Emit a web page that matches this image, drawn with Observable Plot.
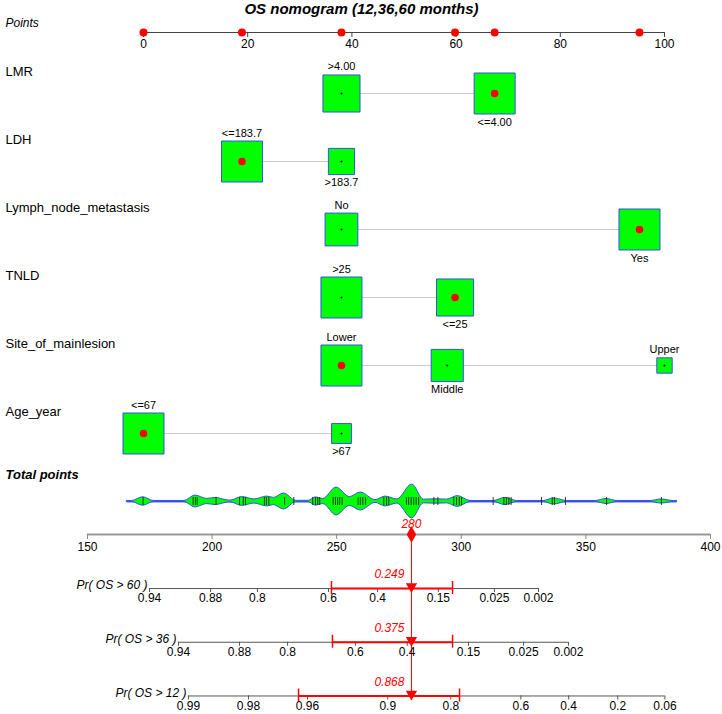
<!DOCTYPE html>
<html><head><meta charset="utf-8">
<script src="https://cdn.jsdelivr.net/npm/d3@7"></script>
<script src="https://cdn.jsdelivr.net/npm/@observablehq/plot@0.6"></script>
<style>
body{margin:0;background:#fff;}
#chart svg{display:block;}
</style></head><body><div id="chart"></div>
<script>
// ---------------- data ----------------
const title = "OS nomogram (12,36,60 months)";
const pointTicks = [0, 20, 40, 60, 80, 100];
const variables = ["LMR", "LDH", "Lymph_node_metastasis", "TNLD", "Site_of_mainlesion", "Age_year"];
const levelVariable = ["LMR", "LMR", "LDH", "LDH", "Lymph_node_metastasis", "Lymph_node_metastasis",
  "TNLD", "TNLD", "Site_of_mainlesion", "Site_of_mainlesion", "Site_of_mainlesion", "Age_year", "Age_year"];
const levelLabels = [">4.00", "<=4.00", "<=183.7", ">183.7", "No", "Yes", ">25", "<=25", "Lower", "Middle", "Upper", "<=67", ">67"];
const levelPoints = [38.0, 67.4, 18.9, 38.0, 38.0, 95.2, 38.0, 59.8, 38.0, 58.3, 100, 0, 38.0];
const levelPercent = [45, 55, 71, 29, 39, 61, 55, 45, 57, 35, 8, 81, 19];
const patientLevels = ["<=4.00", "<=183.7", "Yes", "<=25", "Lower", "<=67"];
const patientTotal = 280;
const totalTicks = [150, 200, 250, 300, 350, 400];
// violin outline of total points distribution (total points, relative density)
const violinTotal = [165.9, 167.9, 172.3, 176.6, 188.9, 193.3, 198.0, 201.4, 205.4, 207.4, 212.1, 217.0, 222.1, 224.8, 228.8,
  233.8, 238.8, 241.5, 244.6, 249.9, 255.3, 259.6, 265.6, 269.6, 274.3, 280.3, 285.0, 290.0, 294.3, 298.6, 303.7,
  313.0, 317.7, 322.4, 333.1, 337.1, 342.5, 353.9, 358.3, 362.6, 375.9, 380.3, 385.3, 386.6];
const violinDensity = [0.03, 0.03, 0.25, 0.03, 0.03, 0.35, 0.15, 0.21, 0.09, 0.05, 0.26, 0.12, 0.29, 0.21, 0.47,
  0.04, 0.04, 0.24, 0.15, 0.82, 0.26, 0.53, 0.08, 0.29, 0.12, 1.0, 0.11, 0.13, 0.11, 0.32, 0.03,
  0.03, 0.21, 0.03, 0.03, 0.18, 0.03, 0.03, 0.15, 0.03, 0.03, 0.12, 0.03, 0.03];
const rugTotal = [172.3, 192.4, 193.3, 194.0, 201.6, 211.0, 212.5, 213.4, 221.0, 221.8, 222.8, 229.1, 232.8,
  240.4, 241.5, 242.4, 243.2, 248.6, 249.5, 250.4, 251.2, 252.2, 258.6, 259.5, 260.5, 261.6,
  268.9, 270.0, 270.9, 278.0, 278.9, 279.9, 280.9, 281.9, 282.9, 289.0, 290.6,
  297.0, 298.1, 299.2, 300.1, 312.8, 317.1, 318.1, 319.1, 320.0, 332.2, 336.5, 337.4, 341.8, 358.3, 380.3];
// survival probability axes
const survTimes = ["60", "36", "12"];
const survEstimate = ["0.249", "0.375", "0.868"];
const ciLowTotal = [247.9, 248.3, 234.7];
const ciHighTotal = [296.5, 296.5, 299.3];
const prTickLabels = [
  ["0.94", "0.88", "0.8", "0.6", "0.4", "0.15", "0.025", "0.002"],
  ["0.94", "0.88", "0.8", "0.6", "0.4", "0.15", "0.025", "0.002"],
  ["0.99", "0.98", "0.96", "0.9", "0.8", "0.6", "0.4", "0.2", "0.06"]
];
const prTickTotal = [
  [174.9, 199.4, 218.2, 246.7, 266.4, 290.8, 313.3, 331.0],
  [186.5, 211.0, 230.3, 257.5, 278.3, 302.9, 325.0, 343.0],
  [190.5, 214.6, 238.3, 270.5, 295.8, 323.9, 343.1, 362.8, 381.7]
];

// ---------------- layout ----------------
const ROW = 68;                       // pixels per row unit
const px = v => v / ROW;              // pixel offset -> row units
const rowPoints = -0.897, rowViolin = 6, rowTotal = 6.485, rowPr = [7.28, 8.07, 8.86];
const tp = t => -10.75 + (t - 150) * 0.4783;   // total points -> points scale
const BOX = 41, VIOLIN_HALF = 17;
const font = "Liberation Sans, Arial, Helvetica, sans-serif";

const levels = levelLabels.map((label, i) => {
  const v = levelVariable[i];
  const row = variables.indexOf(v);
  const same = levelVariable.map((w, j) => j).filter(j => levelVariable[j] === v);
  const maxPct = d3.max(same, j => levelPercent[j]);
  const order = same.indexOf(i);
  const rel = levelPercent[i] / maxPct;
  const side = BOX * Math.sqrt(rel);
  const above = order % 2 === 0;
  return {label, v, row, points: levelPoints[i], rel, side, above,
    selected: patientLevels[variables.indexOf(v)] === label};
});
const rowLines = variables.map((v, row) => {
  const ls = levels.filter(d => d.v === v);
  return {row, x1: d3.min(ls, d => d.points), x2: d3.max(ls, d => d.points)};
});
const selectedPoints = levels.filter(d => d.selected).map(d => d.points);
const violin = violinTotal.map((t, i) => ({t, h: violinDensity[i] * VIOLIN_HALF}));
const pr = survTimes.map((t, i) => ({
  label: `Pr( OS > ${t} )`, row: rowPr[i], est: survEstimate[i], lo: ciLowTotal[i], hi: ciHighTotal[i],
  ticks: prTickLabels[i].map((l, j) => ({label: l, t: prTickTotal[i][j], row: rowPr[i]}))
}));
const prTicks = pr.flatMap(d => d.ticks);

const red = "#ff0000", green = "#00ff00", blue = "#3550ee";

const chart = Plot.plot({
  width: 722, height: 714, margin: 0,
  style: {fontFamily: font, fontSize: "12px", background: "white", color: "black"},
  x: {domain: [0, 100], range: [143, 664], axis: null},
  y: {domain: [0, 6], range: [93, 501], axis: null},
  r: {type: "sqrt", domain: [0, 1], range: [0, BOX / Math.sqrt(Math.PI)]},
  marks: [
    // title
    Plot.text([title], {frameAnchor: "top", lineAnchor: "middle", dy: 9, fontSize: 15, fontWeight: "bold", fontStyle: "italic"}),
    // Points axis
    Plot.text(["Points"], {y: rowPoints, frameAnchor: "left", dx: 5, dy: -9, textAnchor: "start", fontStyle: "italic", fontSize: 12}),
    Plot.ruleY([rowPoints], {x1: d3.min(pointTicks), x2: d3.max(pointTicks), stroke: "#444"}),
    Plot.ruleX(pointTicks, {x: d => d, y1: rowPoints, y2: rowPoints + px(5), stroke: "#444"}),
    Plot.text(pointTicks, {x: d => d, y: rowPoints, dy: 12, fontSize: 12}),
    Plot.dot(selectedPoints, {x: d => d, y: rowPoints, r: 4, fill: red}),
    // variable rows
    Plot.text(variables, {y: (d, i) => i, frameAnchor: "left", dx: 5, dy: -22, textAnchor: "start", fontSize: 13}),
    Plot.ruleY(rowLines, {y: "row", x1: "x1", x2: "x2", stroke: "#cccccc"}),
    Plot.dot(levels, {x: "points", y: "row", r: "rel", symbol: "square", fill: green, stroke: blue, strokeWidth: 1, sort: null}),
    Plot.dot(levels.filter(d => !d.selected), {x: "points", y: "row", r: 1, fill: "black"}),
    Plot.dot(levels.filter(d => d.selected), {x: "points", y: "row", r: 3.8, fill: red}),
    Plot.text(levels, {x: "points", y: d => d.row + (d.above ? -1 : 1) * px(d.side / 2 + 8), text: "label", fontSize: 11}),
    // total points violin
    Plot.text(["Total points"], {y: rowViolin, frameAnchor: "left", dx: 5, dy: -27, textAnchor: "start", fontStyle: "italic", fontWeight: "bold", fontSize: 13}),
    Plot.ruleY([rowViolin], {x1: tp(d3.min(violinTotal)), x2: tp(d3.max(violinTotal)), stroke: "#5b6cf0", strokeWidth: 2}),
    Plot.areaY(violin, {x: d => tp(d.t), y1: d => rowViolin - px(d.h), y2: d => rowViolin + px(d.h), curve: "monotone-x", fill: green, stroke: blue, strokeWidth: 1}),
    Plot.ruleX(rugTotal, {x: tp, y1: rowViolin - px(4), y2: rowViolin + px(4), stroke: "#222", strokeWidth: 0.9}),
    // total points axis
    Plot.ruleY([rowTotal], {x1: tp(d3.min(totalTicks)), x2: tp(d3.max(totalTicks)), stroke: "#999", strokeWidth: 2}),
    Plot.ruleX(totalTicks, {x: tp, y1: rowTotal, y2: rowTotal + px(5), stroke: "#888"}),
    Plot.text(totalTicks, {x: tp, y: rowTotal, dy: 13, fontSize: 12}),
    Plot.ruleX([patientTotal], {x: tp, y1: rowTotal, y2: rowPr[rowPr.length - 1], stroke: red}),
    Plot.dot([patientTotal], {x: tp, y: rowTotal, symbol: "diamond", r: 5, fill: red}),
    Plot.text([patientTotal], {x: tp, y: rowTotal, dy: -10, fill: red, fontStyle: "italic", fontSize: 12}),
    // probability axes
    Plot.ruleY(pr, {y: "row", x1: d => tp(d.ticks[0].t), x2: d => tp(d.ticks[d.ticks.length - 1].t), stroke: "#555"}),
    Plot.ruleX(prTicks, {x: d => tp(d.t), y1: "row", y2: d => d.row + px(4), stroke: "#555"}),
    Plot.text(prTicks, {x: d => tp(d.t), y: "row", text: "label", dy: 10, fontSize: 12}),
    Plot.text(pr, {x: d => tp(d.ticks[0].t), y: "row", text: "label", textAnchor: "end", dx: -2, dy: -3, fontStyle: "italic", fontSize: 12}),
    Plot.ruleY(pr, {y: "row", x1: d => tp(d.lo), x2: d => tp(d.hi), stroke: red, strokeWidth: 2}),
    Plot.ruleX(pr.flatMap(d => [{t: d.lo, row: d.row}, {t: d.hi, row: d.row}]), {x: d => tp(d.t), y1: d => d.row - px(7), y2: d => d.row + px(6), stroke: red, strokeWidth: 1.5}),
    Plot.dot(pr, {x: () => tp(patientTotal), y: "row", symbol: "triangle", rotate: 180, r: 4.2, dy: -2, fill: red}),
    Plot.text(pr, {x: () => tp(patientTotal), y: "row", text: "est", textAnchor: "end", dx: -7, dy: -14, fill: red, fontStyle: "italic", fontSize: 12})
  ]
});
document.getElementById("chart").append(chart);
</script></body></html>
